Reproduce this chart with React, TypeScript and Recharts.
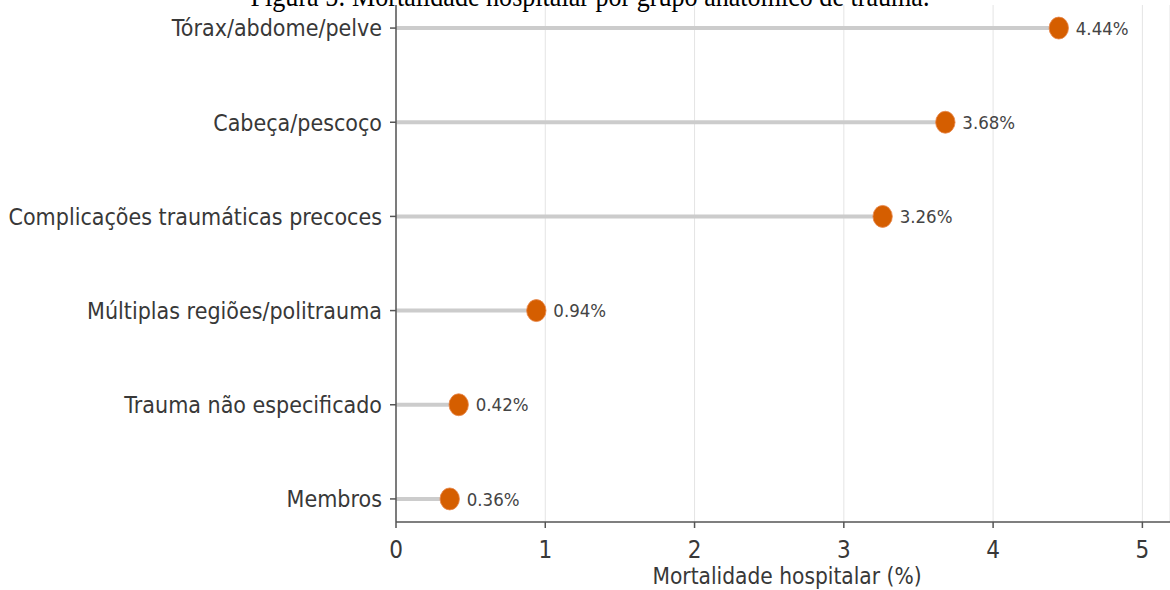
import React from "react";
import {
  ScatterChart,
  Scatter,
  XAxis,
  YAxis,
  CartesianGrid,
  ReferenceLine,
} from "recharts";

// bottom to top
const categories = [
  "Membros",
  "Trauma não especificado",
  "Múltiplas regiões/politrauma",
  "Complicações traumáticas precoces",
  "Cabeça/pescoço",
  "Tórax/abdome/pelve",
];
const mortality = [0.36, 0.42, 0.94, 3.26, 3.68, 4.44];
const xTicks = [0, 1, 2, 3, 4, 5];

const TITLE = "Figura 5: Mortalidade hospitalar por grupo anatômico de trauma.";
const X_LABEL = "Mortalidade hospitalar (%)";
const FONT = "'DejaVu Sans', 'Noto Sans', sans-serif";
const AXIS_COLOR = "#555555";
const TEXT_COLOR = "#383838";
const DOT_COLOR = "#d55e00";
// the source image is slightly squeezed horizontally
const SQUEEZE = 0.9;

const rows = categories.map((name, i) => ({
  name,
  idx: i,
  value: mortality[i],
  label: `${mortality[i].toFixed(2)}%`,
}));

function Dot(props: any) {
  const { cx, cy, payload } = props;
  if (cx == null || cy == null) {
    return null;
  }
  return (
    <g>
      <ellipse cx={cx} cy={cy} rx={9.7} ry={11} fill={DOT_COLOR} stroke="#e8884c" strokeWidth={0.8} />
      <g transform={`translate(${cx + 17},${cy})`}>
        <text
          transform={`scale(${SQUEEZE},1)`}
          dy="0.36em"
          fontSize={18.5}
          fontFamily={FONT}
          fill="#444"
        >
          {payload.label}
        </text>
      </g>
    </g>
  );
}

function YTick(props: any) {
  const { x, y, payload } = props;
  return (
    <g transform={`translate(${x - 6},${y})`}>
      <text
        transform={`scale(${SQUEEZE},1)`}
        textAnchor="end"
        dy="0.36em"
        fontSize={23}
        fontFamily={FONT}
        fill={TEXT_COLOR}
      >
        {categories[payload.value] ?? ""}
      </text>
    </g>
  );
}

function XTick(props: any) {
  const { x, y, payload } = props;
  return (
    <g transform={`translate(${x},${y})`}>
      <text
        transform={`scale(${SQUEEZE},1)`}
        textAnchor="middle"
        y={28}
        fontSize={24}
        fontFamily={FONT}
        fill={TEXT_COLOR}
      >
        {payload.value}
      </text>
    </g>
  );
}

function XLabel(props: any) {
  const { viewBox } = props;
  const cx = viewBox.x + viewBox.width / 2 + 4;
  return (
    <g transform={`translate(${cx},${viewBox.y + 62})`}>
      <text
        transform={`scale(${SQUEEZE},1)`}
        textAnchor="middle"
        fontSize={22.5}
        fontFamily={FONT}
        fill={TEXT_COLOR}
      >
        {X_LABEL}
      </text>
    </g>
  );
}

export default function App() {
  return (
    <div style={{ position: "absolute", left: 0, top: 0, width: 1170, height: 590, background: "#fff" }}>
      <ScatterChart width={1170} height={590} margin={{ top: 5, right: 0, bottom: 0, left: 0 }}>
        <CartesianGrid horizontal={false} vertical stroke="#e4e4e4" strokeWidth={1} />
        <XAxis
          type="number"
          dataKey="value"
          domain={[0, 5.185]}
          ticks={xTicks}
          allowDataOverflow
          height={68}
          stroke={AXIS_COLOR}
          strokeWidth={1.5}
          tickSize={6}
          tick={<XTick />}
          label={<XLabel />}
        />
        <YAxis
          type="number"
          dataKey="idx"
          domain={[-0.245, 5.245]}
          ticks={categories.map((_, i) => i)}
          allowDataOverflow
          width={396}
          stroke={AXIS_COLOR}
          strokeWidth={1.5}
          tickSize={6}
          tick={<YTick />}
        />
        {rows.map((r) => (
          <ReferenceLine
            key={r.name}
            segment={[
              { x: 0, y: r.idx },
              { x: r.value, y: r.idx },
            ]}
            stroke="#cccccc"
            strokeWidth={4}
          />
        ))}
        <Scatter data={rows} shape={Dot} isAnimationActive={false} />
      </ScatterChart>
      <svg width={1170} height={20} style={{ position: "absolute", left: 0, top: 0 }}>
        <g transform="translate(590,6)">
          <text
            transform={`scale(${SQUEEZE},1)`}
            textAnchor="middle"
            fontFamily="'Liberation Serif', 'Times New Roman', serif"
            fontSize={29}
            fill="#000"
          >
            {TITLE}
          </text>
        </g>
      </svg>
    </div>
  );
}
